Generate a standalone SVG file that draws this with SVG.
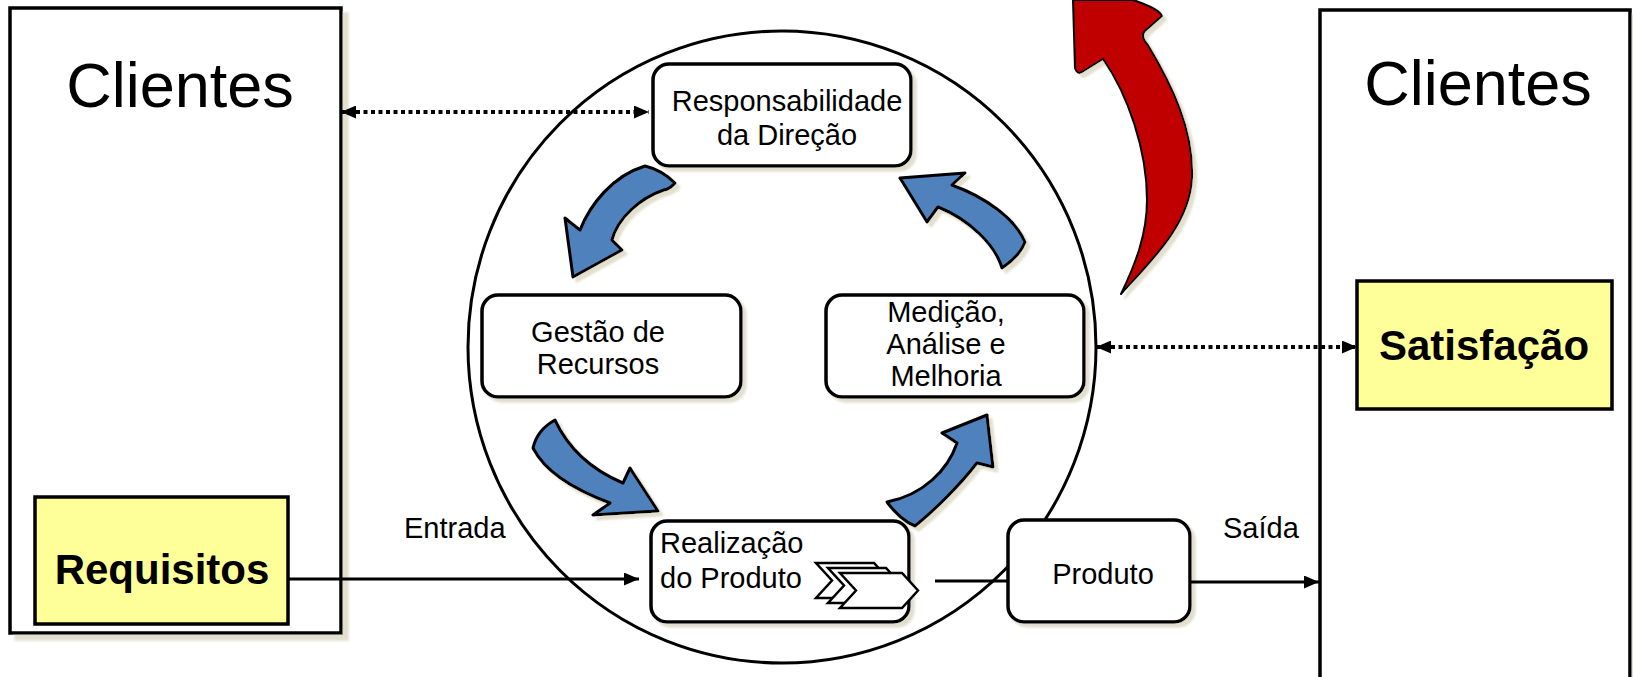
<svg xmlns="http://www.w3.org/2000/svg" width="1633" height="677" viewBox="0 0 1633 677">
<defs>
<style>
.t{font-family:"Liberation Sans",Arial,sans-serif;fill:#000}
.sm{font-size:29px}
.big{font-size:63px}
.bold{font-size:42px;font-weight:bold}
.box{fill:#fff;stroke:#000;stroke-width:3.5}
.ybox{fill:#FFFF99;stroke:#000;stroke-width:3.5}
.rbox{fill:#fff;stroke:#000;stroke-width:3.5}
.blue{fill:#4F81BD;stroke:#000;stroke-width:3;stroke-linejoin:round}
.red{fill:#C00000;stroke:#000;stroke-width:2;stroke-linejoin:round}
.line{stroke:#000;stroke-width:3;fill:none}
.dot{stroke:#000;stroke-width:4;fill:none;stroke-dasharray:4 3.5}
.chev{fill:#fff;stroke:#000;stroke-width:2.5;stroke-linejoin:miter}
</style>
<filter id="sh" x="-10%" y="-10%" width="130%" height="130%">
<feDropShadow dx="6" dy="6" stdDeviation="1" flood-color="#E2DFCF" flood-opacity="1"/>
</filter>
<filter id="sh2" x="-10%" y="-10%" width="130%" height="130%">
<feDropShadow dx="4" dy="4" stdDeviation="1" flood-color="#E2DFCF" flood-opacity="1"/>
</filter>
<marker id="ah" viewBox="0 0 15 13" refX="15" refY="6.5" markerWidth="15" markerHeight="13" markerUnits="userSpaceOnUse" orient="auto-start-reverse">
<path d="M0,0 L15,6.5 L0,13 Z" fill="#000"/>
</marker>
</defs>

<g id="clientes-left">
<rect x="10" y="8" width="331" height="625" class="box" filter="url(#sh)"/>
<text x="180" y="107" text-anchor="middle" class="t big">Clientes</text>
</g>
<g id="requisitos">
<rect x="35" y="497" width="253" height="127" class="ybox"/>
<text x="162" y="584" text-anchor="middle" class="t bold">Requisitos</text>
</g>

<g id="clientes-right">
<rect x="1320" y="10" width="310" height="690" class="box" filter="url(#sh)"/>
<text x="1478" y="105" text-anchor="middle" class="t big">Clientes</text>
</g>
<g id="satisfacao">
<rect x="1357" y="281" width="255" height="128" class="ybox"/>
<text x="1484" y="360" text-anchor="middle" class="t bold">Satisfação</text>
</g>

<g id="circle">
<ellipse cx="782" cy="347" rx="314" ry="316" fill="none" stroke="#000" stroke-width="3"/>
</g>

<g id="red-arrow">
<path class="red" filter="url(#sh2)" d="M1073,0 L1075,68 Q1077,75 1082,72 L1103,59 C1128,95 1147,150 1147,200 C1147,235 1135,265 1121,294 C1150,262 1190,225 1192,178 C1194,130 1172,85 1148,45 Q1140,36 1145,31 L1162,16 Q1160,9 1133,0 Z"/>
</g>

<g id="cycle-arrows">
<path class="blue" filter="url(#sh2)" d="M645,166 Q662,170 675,183 Q670,189 664,190 C640,198 618,218 612,240 L622,250 L573,277 L565,218 L580,230 C590,205 612,176 645,166 Z"/>
<path class="blue" filter="url(#sh2)" d="M900,178 L965,173 L952,185 C985,197 1015,218 1025,242 Q1020,256 1002,268 C995,245 970,220 938,207 L927,222 Z"/>
<path class="blue" filter="url(#sh2)" d="M555,420 Q537,430 533,448 C545,472 575,490 610,503 L593,515 L658,511 L630,468 L623,483 C597,472 570,452 555,420 Z"/>
<path class="blue" filter="url(#sh2)" d="M887,502 Q900,520 915,526 C935,510 960,485 977,463 L993,467 L987,415 L942,433 L957,443 C948,470 923,495 887,502 Z"/>
</g>

<g id="responsabilidade">
<rect x="653" y="64" width="258" height="102" rx="16" class="rbox" filter="url(#sh2)"/>
<text x="787" y="111" text-anchor="middle" class="t sm">Responsabilidade</text>
<text x="787" y="145" text-anchor="middle" class="t sm">da Direção</text>
</g>

<g id="gestao">
<rect x="482" y="295" width="259" height="102" rx="16" class="rbox" filter="url(#sh2)"/>
<text x="598" y="342" text-anchor="middle" class="t sm">Gestão de</text>
<text x="598" y="374" text-anchor="middle" class="t sm">Recursos</text>
</g>

<g id="medicao">
<rect x="826" y="295" width="258" height="102" rx="16" class="rbox" filter="url(#sh2)"/>
<text x="946" y="322" text-anchor="middle" class="t sm">Medição,</text>
<text x="946" y="354" text-anchor="middle" class="t sm">Análise e</text>
<text x="946" y="386" text-anchor="middle" class="t sm">Melhoria</text>
</g>

<g id="realizacao">
<rect x="651" y="521" width="258" height="101" rx="16" class="rbox" filter="url(#sh2)"/>
<text x="660" y="553" class="t sm">Realização</text>
<text x="660" y="588" class="t sm">do Produto</text>
<polygon class="chev" points="816,563 874,563 890,580.5 874,598 816,598 832,580.5"/>
<polygon class="chev" points="828,568 886,568 902,585.5 886,603 828,603 844,585.5"/>
<polygon class="chev" points="840,573 902,573 918,590.5 902,608 840,608 856,590.5"/>
</g>

<g id="produto">
<rect x="1008" y="520" width="182" height="102" rx="16" class="rbox" filter="url(#sh2)"/>
<text x="1103" y="584" text-anchor="middle" class="t sm">Produto</text>
</g>

<g id="connectors">
<line x1="341" y1="112" x2="649" y2="112" class="dot" marker-start="url(#ah)" marker-end="url(#ah)"/>
<line x1="1096" y1="347" x2="1357" y2="347" class="dot" marker-start="url(#ah)" marker-end="url(#ah)"/>
<line x1="288" y1="579" x2="639" y2="579" class="line" marker-end="url(#ah)"/>
<line x1="935" y1="581" x2="1008" y2="581" class="line"/>
<line x1="1190" y1="582" x2="1319" y2="582" class="line" marker-end="url(#ah)"/>
</g>

<g id="labels">
<text x="404" y="538" class="t sm">Entrada</text>
<text x="1223" y="538" class="t sm">Saída</text>
</g>
</svg>
